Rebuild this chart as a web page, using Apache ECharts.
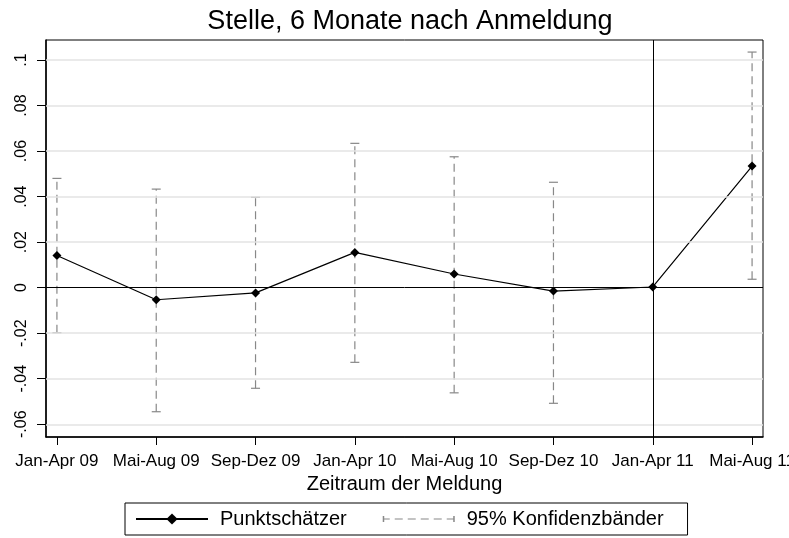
<!DOCTYPE html>
<html>
<head>
	<meta charset="utf-8">
	<title>Stelle, 6 Monate nach Anmeldung</title>
	<script src="https://cdn.jsdelivr.net/npm/echarts@6/dist/echarts.min.js"></script>
	<style type="text/css">
		html, body { margin: 0; padding: 0; background: #ffffff; }
		#chartContainer { width: 789px; height: 538px; }
	</style>
</head>
<body>
	<div id="chartContainer"></div>
	<script type="text/javascript">
		// Zeiträume (x-Achse)
		var categories = ['Jan-Apr 09', 'Mai-Aug 09', 'Sep-Dez 09', 'Jan-Apr 10', 'Mai-Aug 10', 'Sep-Dez 10', 'Jan-Apr 11', 'Mai-Aug 11'];
		// Punktschätzer
		var estimates = [0.0141, -0.0053, -0.0023, 0.0155, 0.0060, -0.0015, 0.0003, 0.0534];
		// 95% Konfidenzbänder (null = kein Band)
		var ciLower = [-0.0198, -0.0545, -0.0442, -0.0328, -0.0462, -0.0508, null, 0.0037];
		var ciUpper = [0.0480, 0.0433, 0.0397, 0.0634, 0.0575, 0.0463, null, 0.1035];
		// Achsenbeschriftung
		var yTicks = [-0.06, -0.04, -0.02, 0, 0.02, 0.04, 0.06, 0.08, 0.1];
		var xTicks = [0, 1, 2, 3, 4, 5, 6, 7];

		function stataNum(v) {
			var r = Math.round(v * 1000) / 1000;
			if (r === 0) return '0';
			return String(r).replace('0.', '.');
		}

		var pointData = estimates.map(function (v, i) { return [i, v]; });
		var ciData = [];
		for (var i = 0; i < categories.length; i++) {
			if (ciLower[i] !== null) ciData.push([i, ciLower[i], ciUpper[i]]);
		}

		var ciIcon = 'path://M0,0h0.01v0.01h-0.01z M0,14h0.01v-0.01h-0.01z ' +
			'M0,4h1.5v6h-1.5z M1,6.5h6v1h-6z M12,6.5h8v1h-8z M25,6.5h8v1h-8z M38,6.5h8v1h-8z ' +
			'M51,6.5h8v1h-8z M64,6.5h7v1h-7z M70.5,4h1.5v6h-1.5z';

		var myChart = echarts.init(document.getElementById('chartContainer'));
		var option = {
			backgroundColor: '#ffffff',
			animation: false,
			title: {
				text: 'Stelle, 6 Monate nach Anmeldung',
				left: 405,
				textAlign: 'center',
				top: 3,
				textStyle: { color: '#000', fontSize: 27, fontWeight: 'normal', fontFamily: 'Liberation Sans' }
			},
			legend: {
				left: 125,
				top: 503,
				padding: [6, 24, 6, 10],
				itemWidth: 72,
				itemHeight: 14,
				itemGap: 36,
				borderColor: '#000',
				borderWidth: 1,
				textStyle: { color: '#000', fontSize: 20, fontFamily: 'Liberation Sans', padding: [0, 0, 0, 7] },
				data: [
					{ name: 'Punktschätzer' },
					{ name: '95% Konfidenzbänder', icon: ciIcon }
				]
			},
			grid: {
				left: 46, right: 26, top: 40, bottom: 101,
				outerBoundsMode: 'none',
				containLabel: false,
				show: true, borderColor: '#000', borderWidth: 1
			},
			xAxis: {
				type: 'value',
				min: -0.11,
				max: 7.11,
				name: 'Zeitraum der Meldung',
				nameLocation: 'middle',
				nameGap: 25,
				nameTextStyle: { color: '#000', fontSize: 20, fontFamily: 'Liberation Sans' },
				axisLine: { onZero: false, lineStyle: { color: '#000', width: 1.5 } },
				axisTick: { show: true, length: 8, customValues: xTicks, lineStyle: { color: '#000' } },
				axisLabel: {
					customValues: xTicks,
					color: '#000', fontSize: 17, margin: 16,
					fontFamily: 'Liberation Sans',
					formatter: function (v) { return categories[Math.round(v)]; }
				},
				splitLine: { show: false }
			},
			yAxis: {
				type: 'value',
				min: -0.0656,
				max: 0.1088,
				axisLine: { show: true, onZero: false, lineStyle: { color: '#000', width: 1.5 } },
				axisTick: { show: true, length: 9, customValues: yTicks, lineStyle: { color: '#000' } },
				axisLabel: {
					customValues: yTicks,
					rotate: 90,
					color: '#000', fontSize: 16, margin: 16,
					fontFamily: 'Liberation Sans',
					formatter: stataNum
				},
				splitLine: { show: false }
			},
			series: [
				{
					name: 'Gitter',
					type: 'line',
					data: [],
					silent: true,
					z: 1,
					markLine: {
						silent: true,
						symbol: 'none',
						label: { show: false },
						lineStyle: { color: '#e3e3e3', type: 'solid', width: 1.5 },
						data: yTicks.filter(function (v) { return v !== 0; }).map(function (v) { return { yAxis: v }; })
					}
				},
				{
					name: '95% Konfidenzbänder',
					type: 'custom',
					z: 3,
					itemStyle: { color: '#888888' },
					data: ciData,
					renderItem: function (params, api) {
						var x = api.value(0);
						var lo = api.coord([x, api.value(1)]);
						var hi = api.coord([x, api.value(2)]);
						var cap = 4.5;
						var style = { stroke: '#888888', lineWidth: 1.2, fill: null };
						return {
							type: 'group',
							children: [
								{ type: 'line', shape: { x1: lo[0], y1: lo[1], x2: hi[0], y2: hi[1] },
									style: { stroke: '#888888', lineWidth: 1.2, lineDash: [8, 5] } },
								{ type: 'line', shape: { x1: lo[0] - cap, y1: lo[1], x2: lo[0] + cap, y2: lo[1] }, style: style },
								{ type: 'line', shape: { x1: hi[0] - cap, y1: hi[1], x2: hi[0] + cap, y2: hi[1] }, style: style }
							]
						};
					}
				},
				{
					name: 'Punktschätzer',
					type: 'line',
					z: 4,
					data: pointData,
					symbol: 'diamond',
					symbolSize: 9,
					itemStyle: { color: '#000' },
					lineStyle: { color: '#000', width: 1.2 },
					markLine: {
						silent: true,
						symbol: 'none',
						label: { show: false },
						lineStyle: { color: '#000', type: 'solid', width: 1 },
						data: [{ yAxis: 0 }, { xAxis: 6 }]
					}
				}
			]
		};
		myChart.setOption(option);
	</script>
</body>
</html>
